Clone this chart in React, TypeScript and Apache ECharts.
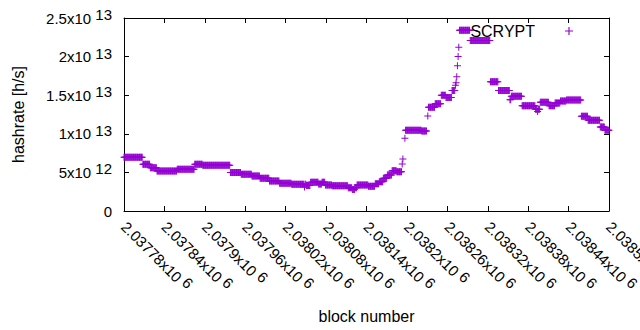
import React, { useEffect, useRef } from 'react';
import * as echarts from 'echarts';

// block numbers are BASE_BLOCK + offset; each run holds one value (in units of 1e12 h/s) per block
const BASE_BLOCK = 2037780;
const segStart = [0, 28, 39, 49, 79, 105, 117, 158, 174, 190, 202, 216, 231, 249, 268, 269, 271, 277, 289, 294, 299, 309, 333, 339, 343, 346, 363, 373, 379, 385, 391, 398, 405, 413, 414, 417, 418, 442, 451, 452, 462, 471, 478, 487, 492, 493, 494, 495, 496, 497, 498, 514, 544, 556, 573, 575, 591, 611, 614, 615, 618, 631, 640, 648, 657, 679, 689, 707, 714];
const segEnd = [27, 38, 48, 78, 104, 116, 157, 173, 189, 201, 215, 230, 248, 267, 268, 270, 276, 288, 293, 298, 308, 332, 338, 342, 345, 362, 372, 378, 384, 390, 397, 404, 412, 413, 414, 417, 441, 449, 451, 461, 470, 477, 486, 491, 492, 493, 494, 495, 496, 497, 513, 543, 555, 572, 574, 590, 610, 613, 614, 617, 630, 639, 647, 656, 678, 688, 706, 713, 720];
const segValue = [6.96, 6.05, 5.6, 5.18, 5.4, 6.05, 5.92, 5.0, 4.75, 4.53, 4.24, 3.89, 3.59, 3.46, 3.1, 3.46, 3.3, 3.72, 3.5, 3.72, 3.37, 3.28, 3.0, 2.78, 3.0, 3.36, 3.2, 3.54, 3.8, 4.24, 4.66, 5.22, 5.1, 6.1, 6.74, 9.42, 10.45, 10.36, 12.3, 13.45, 13.9, 15.0, 14.7, 15.6, 16.3, 16.6, 17.4, 18.8, 20.0, 21.2, 23.4, 22.1, 16.75, 15.6, 14.4, 14.85, 13.64, 13.17, 12.9, 13.17, 14.08, 13.64, 14.0, 14.25, 14.38, 12.27, 11.75, 10.88, 10.45];

const X_MIN = 2037780;
const X_MAX = 2038500;
const X_STEP = 60;
const Y_MIN = 0;
const Y_MAX = 2.5e13;
const Y_STEP = 5e12;

const SERIES_NAME = 'SCRYPT';
const COLOR = '#9400d3';
const FONT = 'Liberation Sans, Arial, sans-serif';
const PLUS = 'path://M3,0h1v3h3v1h-3v3h-1v-3h-3v-1h3z';

function buildData(): number[][] {
  const d: number[][] = [];
  for (let i = 0; i < segStart.length; i++) {
    for (let b = segStart[i]; b <= segEnd[i]; b++) {
      d.push([BASE_BLOCK + b, segValue[i] * 1e12]);
    }
  }
  return d;
}

function sci(v: number): string {
  if (v === 0) return '0';
  const e = Math.floor(Math.log10(v) + 1e-9);
  const m = parseFloat((v / Math.pow(10, e)).toFixed(5));
  return `{m|${m}x10} {e|${e}}`;
}

const rich = {
  m: { fontSize: 15, color: '#000', fontFamily: FONT },
  e: { fontSize: 15, color: '#000', fontFamily: FONT, padding: [0, 0, 7, 0] },
};

export default function App() {
  const ref = useRef<HTMLDivElement>(null);
  useEffect(() => {
    if (!ref.current) return;
    const chart = echarts.init(ref.current, undefined, { renderer: 'svg' });
    const axisLine = { show: true, onZero: false, lineStyle: { color: '#000', width: 1 } };
    const axisTick = { show: true, inside: true, length: 5, lineStyle: { color: '#000', width: 1 } };
    chart.setOption({
      animation: false,
      backgroundColor: '#fff',
      textStyle: { fontFamily: FONT },
      grid: { left: 124, right: 31, top: 18, bottom: 119, containLabel: false, outerBoundsMode: 'none' },
      legend: {
        data: [SERIES_NAME],
        right: 67,
        top: 23,
        padding: 0,
        align: 'right',
        icon: PLUS,
        itemWidth: 58,
        itemHeight: 8,
        textStyle: { fontSize: 16, color: '#000', fontFamily: FONT },
      },
      xAxis: [
        {
          type: 'value',
          min: X_MIN,
          max: X_MAX,
          interval: X_STEP,
          position: 'bottom',
          axisLine,
          axisTick,
          splitLine: { show: false },
          axisLabel: {
            rotate: -45,
            margin: 13,
            fontSize: 15,
            color: '#000',
            fontFamily: FONT,
            formatter: (v: number) => sci(v),
            rich,
            showMinLabel: true,
            showMaxLabel: true,
            hideOverlap: false,
          },
          name: 'block number',
          nameLocation: 'middle',
          nameGap: 97,
          nameTextStyle: { fontSize: 16, color: '#000', fontFamily: FONT },
        },
        {
          type: 'value',
          min: X_MIN,
          max: X_MAX,
          interval: X_STEP,
          position: 'top',
          axisLine,
          axisTick,
          splitLine: { show: false },
          axisLabel: { show: false },
        },
      ],
      yAxis: [
        {
          type: 'value',
          min: Y_MIN,
          max: Y_MAX,
          interval: Y_STEP,
          position: 'left',
          axisLine,
          axisTick,
          splitLine: { show: false },
          axisLabel: {
            margin: 12,
            fontSize: 15,
            color: '#000',
            fontFamily: FONT,
            formatter: (v: number) => sci(v),
            rich,
          },
          name: 'hashrate [h/s]',
          nameLocation: 'middle',
          nameGap: 98,
          nameTextStyle: { fontSize: 16, color: '#000', fontFamily: FONT },
        },
        {
          type: 'value',
          min: Y_MIN,
          max: Y_MAX,
          interval: Y_STEP,
          position: 'right',
          axisLine,
          axisTick,
          splitLine: { show: false },
          axisLabel: { show: false },
        },
      ],
      series: [
        {
          name: SERIES_NAME,
          type: 'scatter',
          xAxisIndex: 0,
          yAxisIndex: 0,
          symbol: PLUS,
          symbolSize: 7,
          itemStyle: { color: COLOR, opacity: 1 },
          data: buildData(),
          clip: false,
        },
      ],
    });
    return () => chart.dispose();
  }, []);
  return <div ref={ref} style={{ position: 'absolute', left: 0, top: 0, width: 640, height: 330 }} />;
}
